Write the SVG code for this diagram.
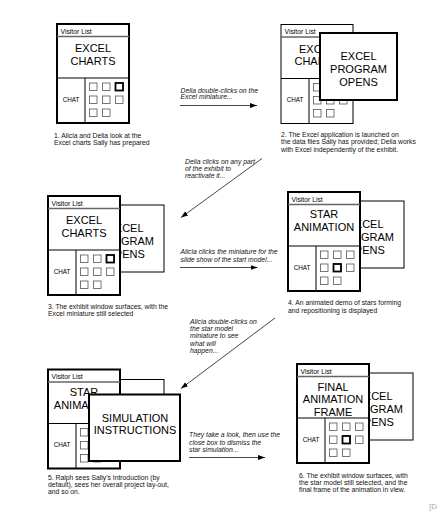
<svg xmlns="http://www.w3.org/2000/svg" width="443" height="512" viewBox="0 0 443 512">
<defs>
<style>
.bg{fill:#fff}
.win{fill:#fff;stroke:#000;stroke-width:1}
.wina{fill:#fff;stroke:#000;stroke-width:2}
.ln{stroke:#000;stroke-width:1;fill:none}
.hd{stroke:#666;stroke-width:1.4;fill:none}
.sq{fill:#fff;stroke:#555;stroke-width:0.8}
.sqa{fill:#fff;stroke:#000;stroke-width:1.8}
text{font-family:"Liberation Sans",Arial,sans-serif;fill:#000}
.ti{font-size:11px;text-anchor:middle}
.vl{font-size:6.8px}
.ch{font-size:6.3px;text-anchor:middle}
.cap{font-size:6.8px;fill:#111}
.lab{font-size:6.8px;font-style:italic;fill:#111}
.arr{stroke:#333;stroke-width:0.9;fill:none;marker-end:url(#ah)}
</style>
<marker id="ah" markerUnits="userSpaceOnUse" markerWidth="8" markerHeight="6" refX="7" refY="3" orient="auto">
<path d="M0,0.5 L7,3 L0,5.5 z" fill="#000"/>
</marker>
<g id="grid">
<rect class="sq" x="32.5" y="59" width="7.5" height="7.5"/>
<rect class="sq" x="45.5" y="59" width="7.5" height="7.5"/>
<rect class="sq" x="58.5" y="59" width="7.5" height="7.5"/>
<rect class="sq" x="32.5" y="72" width="7.5" height="7.5"/>
<rect class="sq" x="45.5" y="72" width="7.5" height="7.5"/>
<rect class="sq" x="58.5" y="72" width="7.5" height="7.5"/>
<rect class="sq" x="32.5" y="85" width="7.5" height="7.5"/>
<rect class="sq" x="45.5" y="85" width="7.5" height="7.5"/>
</g>
<g id="frame">
<line class="hd" x1="0" y1="12.5" x2="72" y2="12.5"/>
<text class="vl" x="3.5" y="9.5">Visitor List</text>
<line class="ln" x1="0" y1="54" x2="72" y2="54"/>
<line class="ln" x1="28" y1="54" x2="28" y2="99"/>
<text class="ch" x="14" y="77.5">CHAT</text>
<use href="#grid"/>
</g>
<g id="prog">
<rect class="win" x="39" y="9" width="77" height="67"/>
<text class="ti" x="77.5" y="35.5">EXCEL</text>
<text class="ti" x="77.5" y="48.5">PROGRAM</text>
<text class="ti" x="77.5" y="61.5">OPENS</text>
</g>
</defs>
<rect class="bg" x="0" y="0" width="443" height="512"/>

<g id="panel1" transform="translate(57,24)">
<rect class="wina" x="0" y="0" width="72" height="99"/>
<use href="#frame"/>
<rect class="sqa" x="58.5" y="59" width="7.5" height="7.5"/>
<text class="ti" x="36" y="28">EXCEL</text>
<text class="ti" x="36" y="40.5">CHARTS</text>
</g>

<g id="panel2" transform="translate(281,24.5)">
<rect class="win" x="0" y="0" width="72" height="99"/>
<use href="#frame"/>
<text class="ti" x="36" y="28">EXCEL</text>
<text class="ti" x="36" y="40.5">CHARTS</text>
<rect class="wina" x="39" y="8.5" width="77" height="67"/>
<text class="ti" x="77.5" y="35">EXCEL</text>
<text class="ti" x="77.5" y="48">PROGRAM</text>
<text class="ti" x="77.5" y="61">OPENS</text>
</g>

<g id="panel3" transform="translate(48,196)">
<use href="#prog"/>
<rect class="wina" x="0" y="0" width="72" height="99"/>
<use href="#frame"/>
<rect class="sqa" x="58.5" y="59" width="7.5" height="7.5"/>
<text class="ti" x="36" y="27.5">EXCEL</text>
<text class="ti" x="36" y="40.5">CHARTS</text>
</g>

<g id="panel4" transform="translate(288,192)">
<use href="#prog"/>
<rect class="wina" x="0" y="0" width="72" height="99"/>
<use href="#frame"/>
<rect class="sqa" x="45.5" y="72" width="7.5" height="7.5"/>
<text class="ti" x="36" y="26">STAR</text>
<text class="ti" x="36" y="39">ANIMATION</text>
</g>

<g id="panel5" transform="translate(48,369.5)">
<rect class="win" x="39" y="10" width="77" height="67"/>
<rect class="wina" x="0" y="0" width="72" height="99"/>
<use href="#frame"/>
<text class="ti" x="36" y="26.5">STAR</text>
<text class="ti" x="36" y="39">ANIMATION</text>
<rect class="wina" x="41" y="25" width="91" height="66.5"/>
<text class="ti" x="87" y="52">SIMULATION</text>
<text class="ti" x="87" y="64">INSTRUCTIONS</text>
</g>

<g id="panel6" transform="translate(297,364)">
<use href="#prog"/>
<rect class="wina" x="0" y="0" width="72" height="99"/>
<use href="#frame"/>
<rect class="sqa" x="45.5" y="72" width="7.5" height="7.5"/>
<text class="ti" x="36" y="26.5">FINAL</text>
<text class="ti" x="36" y="39">ANIMATION</text>
<text class="ti" x="36" y="51.5">FRAME</text>
</g>

<g id="captions">
<text class="cap" x="54" y="137.5">1.  Alicia and Delia look at the</text>
<text class="cap" x="54" y="144.8">Excel charts Sally has prepared</text>
<text class="cap" x="281" y="137">2.  The Excel application is launched on</text>
<text class="cap" x="281" y="144.3">the data files Sally has provided;  Delia works</text>
<text class="cap" x="281" y="151.6">with Excel independently of the exhibit.</text>
<text class="cap" x="48" y="308.5">3.  The exhibit window surfaces, with the</text>
<text class="cap" x="48" y="315.8">Excel miniature still selected</text>
<text class="cap" x="288" y="305">4.  An animated demo of stars forming</text>
<text class="cap" x="288" y="312.5">and repositioning is displayed</text>
<text class="cap" x="48" y="480">5. Ralph sees Sally's Introduction (by</text>
<text class="cap" x="48" y="487">default), sees her overall project lay-out,</text>
<text class="cap" x="48" y="494">and so on.</text>
<text class="cap" x="299" y="477.5">6.  The exhibit window surfaces, with</text>
<text class="cap" x="299" y="484.8">the star model still selected, and the</text>
<text class="cap" x="299" y="492">final frame of the animation in view.</text>
</g>

<g id="connectors">
<path class="arr" d="M180,105.5 H257"/>
<path class="arr" d="M262,158.5 L181,217.5"/>
<path class="arr" d="M180,267.5 H257.5"/>
<path class="arr" d="M275,318 L181,388.5"/>
<path class="arr" d="M189,457.5 H265"/>
<text class="lab" x="180.5" y="92.5">Delia double-clicks on the</text>
<text class="lab" x="180.5" y="99.2">Excel miniature...</text>
<text class="lab" x="185" y="164.2">Delia clicks on any part</text>
<text class="lab" x="185" y="170.8">of the exhibit to</text>
<text class="lab" x="185" y="177.5">reactivate it...</text>
<text class="lab" x="180.5" y="254.2">Alicia clicks the miniature for the</text>
<text class="lab" x="180.5" y="261.5">slide show of the start model...</text>
<text class="lab" x="190" y="323.5">Alicia double-clicks on</text>
<text class="lab" x="190" y="330.8">the star model</text>
<text class="lab" x="190" y="338.3">miniature to see</text>
<text class="lab" x="190" y="345.8">what will</text>
<text class="lab" x="190" y="353.3">happen...</text>
<text class="lab" x="189" y="436.8">They take a look, then use the</text>
<text class="lab" x="189" y="444.5">close box to dismiss the</text>
<text class="lab" x="189" y="452">star simulation...</text>
</g>
<text x="429" y="509" style="font-size:8px;fill:#aaa">[D</text>
</svg>
